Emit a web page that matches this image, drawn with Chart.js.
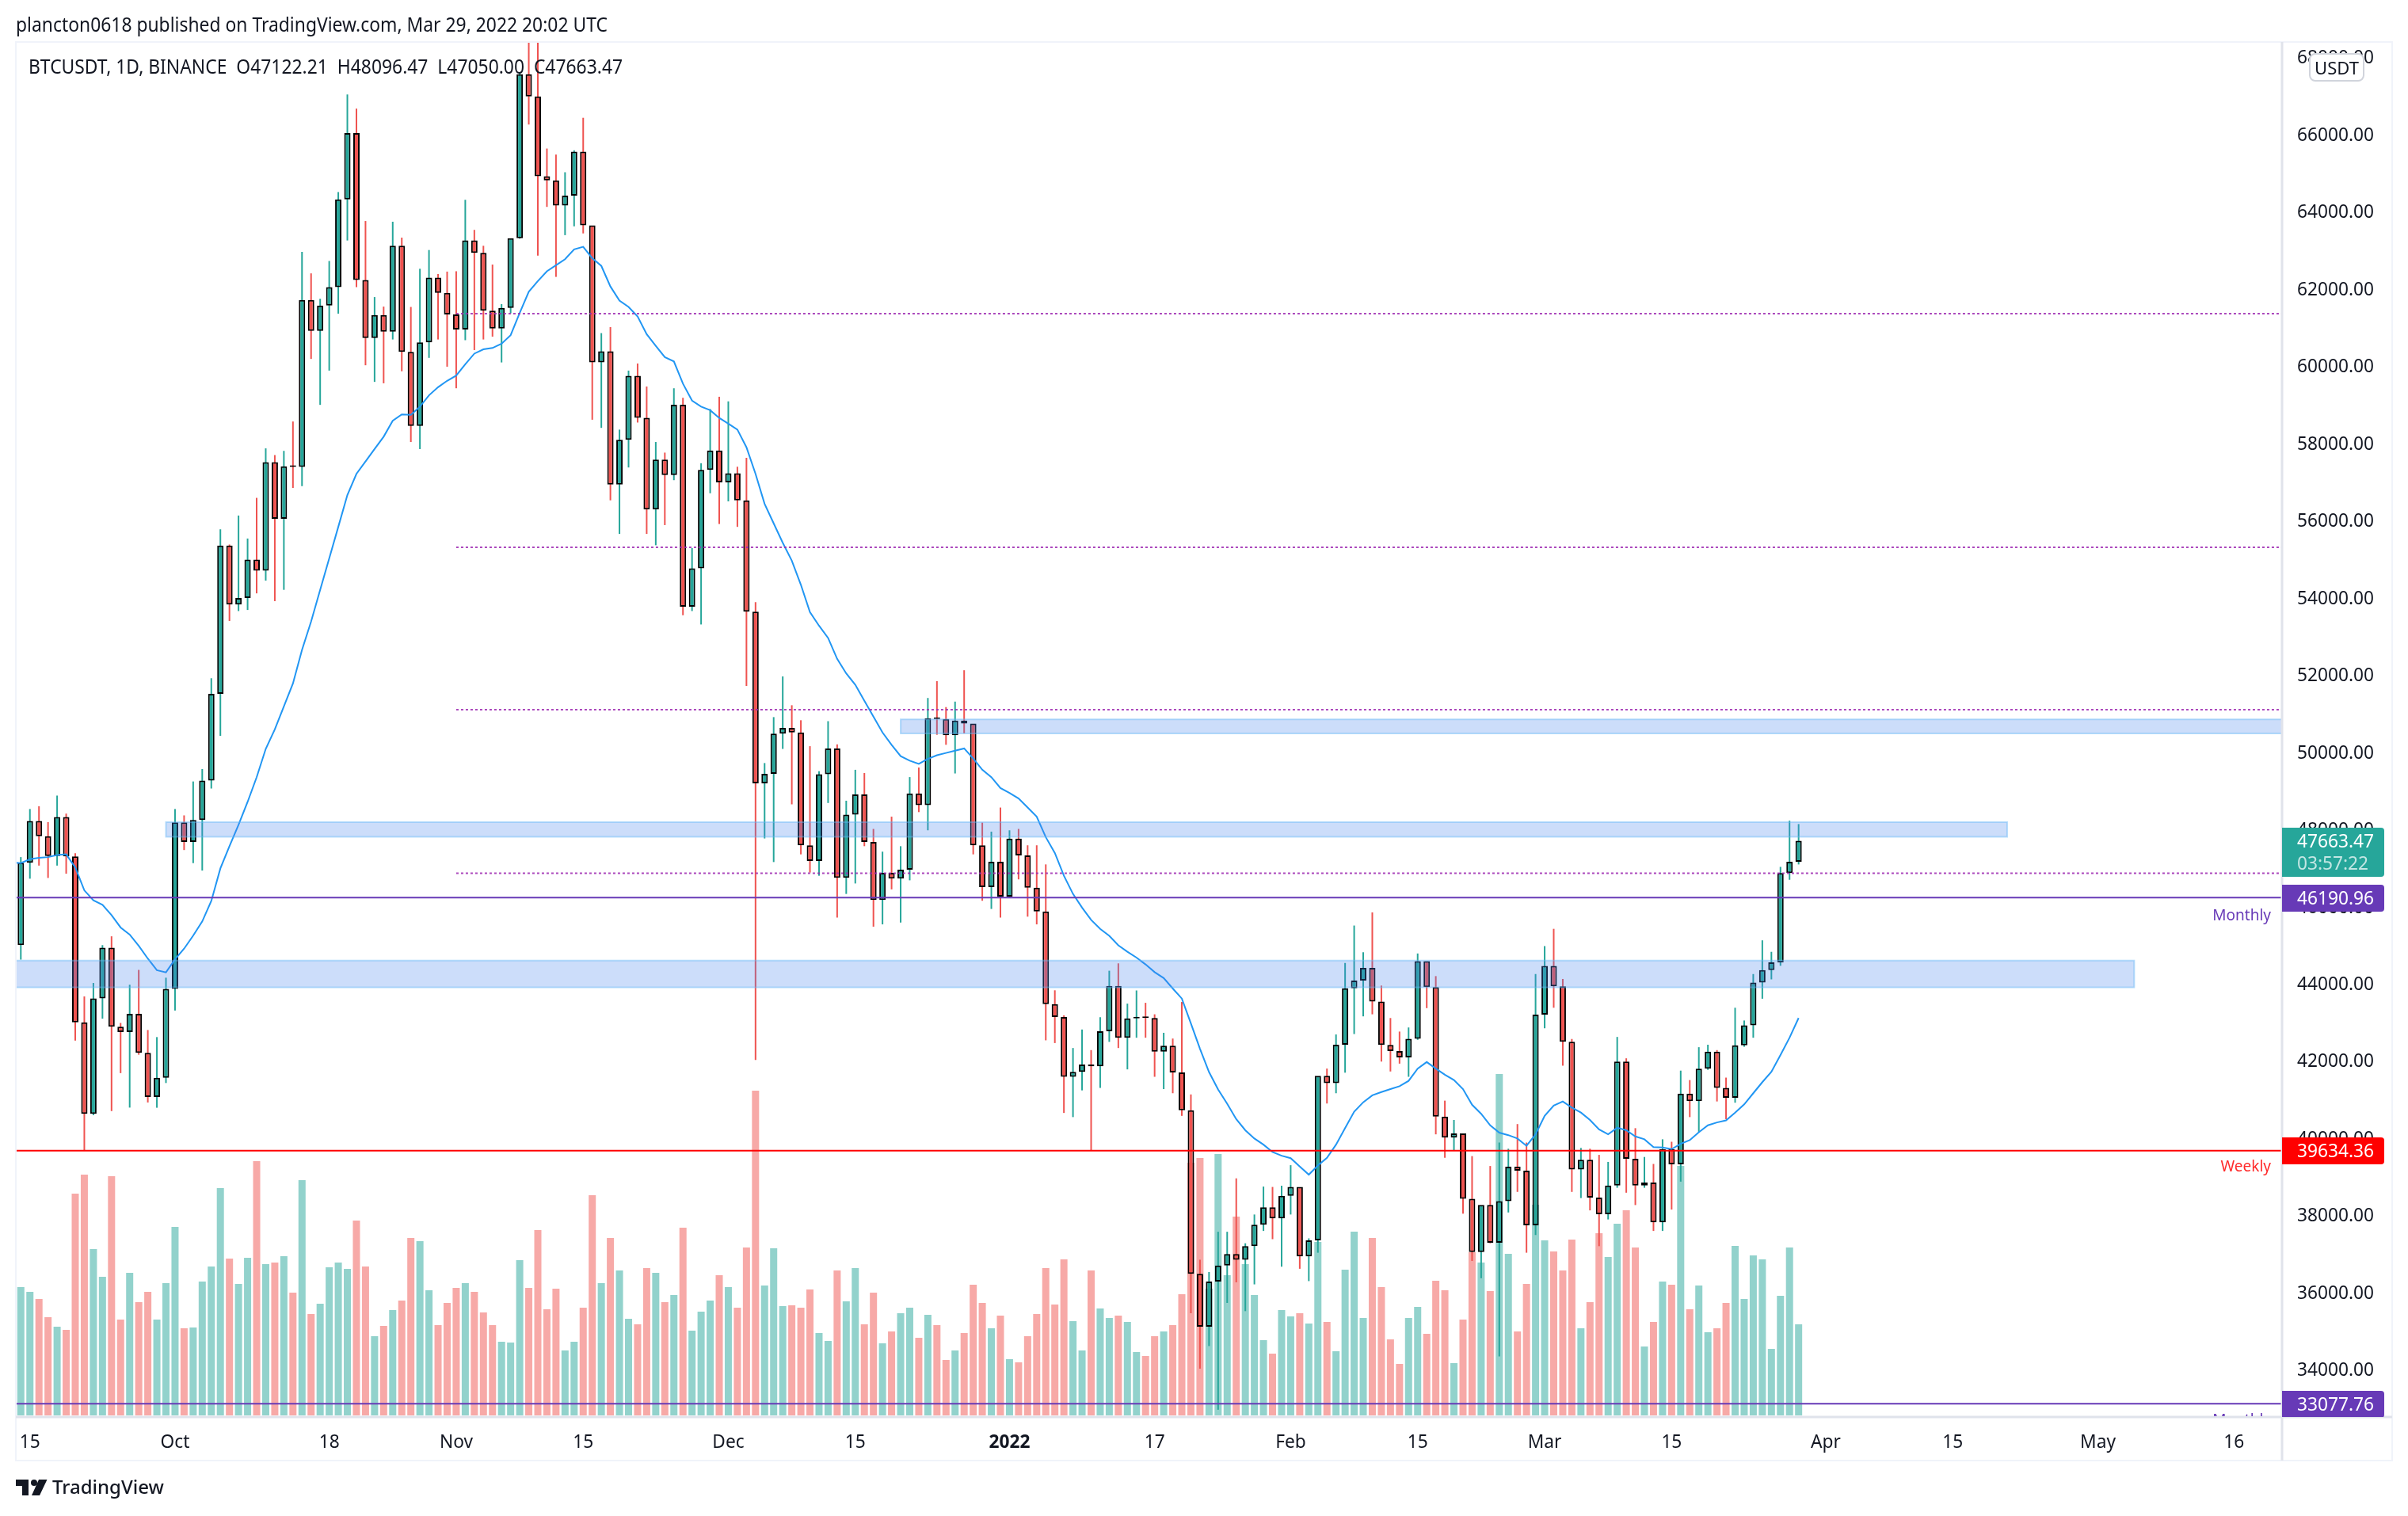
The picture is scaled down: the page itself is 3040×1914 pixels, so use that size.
<!DOCTYPE html>
<html>
<head>
<meta charset="utf-8">
<title>BTCUSDT 1D</title>
<script src="https://cdn.jsdelivr.net/npm/chart.js@4/dist/chart.umd.min.js"></script>
<style>
html,body{margin:0;padding:0;background:#fff;width:3040px;height:1914px;overflow:hidden;font-family:"Noto Sans",sans-serif;color:#131722}
#wrap{position:relative;width:3040px;height:1914px}
canvas{position:absolute;left:0;top:0}
.t{position:absolute;white-space:nowrap;line-height:1}
.tag{position:absolute;left:2881px;width:129px;color:#fff;font-size:22.7px;border-radius:0 4px 4px 0;box-sizing:border-box;padding-left:19px}
.tag div{position:absolute;left:19px;line-height:1;white-space:nowrap}
</style>
</head>
<body>
<div id="wrap">
<canvas id="c" width="3040" height="1914"></canvas>
<div class="t" style="left:20px;top:19px;font-size:24.6px;transform:scaleX(.93);transform-origin:0 0" id="pub">plancton0618 published on TradingView.com, Mar 29, 2022 20:02 UTC</div>
<div class="t" style="left:36px;top:72px;font-size:24.6px;white-space:pre;transform:scaleX(.93);transform-origin:0 0" id="ohlc">BTCUSDT, 1D, BINANCE  O47122.21  H48096.47  L47050.00  C47663.47</div>
<div class="t" style="left:2915px;top:67px;width:70px;height:36px;box-sizing:border-box;border:2px solid #d1d4dc;border-radius:8px;background:#fff;font-size:22px;line-height:32px;text-align:center">USDT</div>
<div class="tag" style="top:1045px;height:62px;background:#26a69a"><div style="top:6px">47663.47</div><div style="top:34px;color:rgba(255,255,255,.72)">03:57:22</div></div>
<div class="tag" style="top:1117px;height:34px;background:#673ab7"><div style="top:6px">46190.96</div></div>
<div class="tag" style="top:1436px;height:34px;background:#ff0000"><div style="top:6px">39634.36</div></div>
<div style="position:absolute;left:2881px;top:1756px;width:129px;height:33px;overflow:hidden"><div class="tag" style="left:0;top:0;height:34px;background:#673ab7"><div style="top:6px">33077.76</div></div></div>
<div class="t" style="right:173px;top:1146px;font-size:19px;color:#673ab7">Monthly</div>
<div class="t" style="right:173px;top:1463px;font-size:19px;color:#ff2a2a">Weekly</div>
<div style="position:absolute;left:2700px;top:1760px;width:181px;height:28px;overflow:hidden"><div class="t" style="right:14px;top:23px;font-size:19px;color:#673ab7">Monthly</div></div>
<svg style="position:absolute;left:20px;top:1868px" width="40" height="20" viewBox="0 0 40 20"><path fill="#131722" d="M0 0H16V20H8V8H0Z"/><circle fill="#131722" cx="23" cy="4" r="4"/><path fill="#131722" d="M29 0H39.5L30 20H20Z"/></svg>
<div class="t" style="left:66px;top:1865px;font-size:24px;font-weight:500;color:#131722">TradingView</div>
</div>
<script>
const priceTicks=[34000,36000,38000,40000,42000,44000,46000,48000,50000,52000,54000,56000,58000,60000,62000,64000,66000,68000];
const dateTickDays=[2,18,35,49,63,79,93,110,126,141,155,169,183,200,214,230,245];
const dateTickLabels=["15","Oct","18","Nov","15","Dec","15","2022","17","Feb","15","Mar","15","Apr","15","May","16"];
const firstDate="2021-09-13";
const opens=[null,44960,47092,48176,47783,47267,48278,47260,42961,40587,43580,44895,42848,42705,43178,42171,41026,41524,
43824,48141,47634,48200,49224,51471,55315,53785,53951,54949,54659,57471,56005,57367,57347,61672,60875,61528,62009,64280,66001,62193,60688,61286,60852,63078,60328,58413,60575,62253,61859,
61299,60911,63219,62896,61395,60937,61470,63273,67525,66947,64882,64774,64122,64380,65519,63606,60058,60344,56891,58052,59707,58622,56247,57541,57138,58960,53727,54721,57274,57776,
56950,57184,56480,53601,49152,49396,50441,50588,50471,47545,47140,49389,50053,46702,48343,48864,47632,46131,46834,46681,46914,48889,48588,50838,50820,50399,50775,50701,47543,46464,47120,
46216,47722,47286,46446,45833,43431,43097,41546,41678,41864,41822,42729,43902,42560,43059,43084,43071,42201,42352,41660,40680,36445,35071,36244,36660,36958,36809,37160,37716,38166,37881,
38466,38694,36896,37311,41574,41382,42380,43839,44042,44372,43495,42373,42217,42053,42535,44544,43873,40515,39974,40079,38386,37008,38230,37250,38327,39219,39116,37700,
43160,44421,43892,42454,39148,39398,38420,37988,38730,41941,39422,38729,38807,37777,39671,39280,41114,40917,41757,42201,41262,41002,42364,42882,43991,44313,44511,46827,47122];
const closes=[null,47092,48176,47783,47267,48278,47260,42961,40587,43580,44895,42848,42705,43178,42171,41026,41524,43824,
48141,47634,48200,49224,51471,55315,53785,53951,54949,54659,57471,56005,57367,57347,61672,60875,61528,62009,64280,66001,62193,60688,61286,60852,63078,60328,58413,60575,62253,61859,61299,
60911,63219,62896,61395,60937,61470,63273,67525,66947,64882,64774,64122,64380,65519,63606,60058,60344,56891,58052,59707,58622,56247,57541,57138,58960,53727,54721,57274,57776,56950,
57184,56480,53601,49152,49396,50441,50588,50471,47545,47140,49389,50053,46702,48343,48864,47632,46131,46834,46681,46914,48889,48588,50838,50820,50399,50775,50701,47543,46464,47120,46216,
47722,47286,46446,45833,43431,43097,41546,41678,41864,41822,42729,43902,42560,43059,43084,43071,42201,42352,41660,40680,36445,35071,36244,36660,36958,36809,37160,37716,38166,37881,38466,
38694,36896,37311,41574,41382,42380,43839,44042,44372,43495,42373,42217,42053,42535,44544,43873,40515,39974,40079,38386,37008,38230,37250,38327,39219,39116,37700,43160,
44421,43892,42454,39148,39398,38420,37988,38730,41941,39422,38729,38807,37777,39671,39280,41114,40917,41757,42201,41262,41002,42364,42882,43991,44313,44511,46827,47122,47663];
const highs=[null,47240,48486,48559,48147,48834,48367,47340,43630,43979,44959,45188,42944,43933,44318,42760,42577,44116,
48486,48321,49200,49521,51875,55732,55338,56090,55494,56548,57830,57656,57765,58526,62923,62364,61705,62685,64471,66999,66633,63720,61750,61503,63702,63290,61494,62483,62969,62346,62410,
62419,64270,63491,63079,62593,61567,63262,67570,68789,68999,65598,65442,64984,65552,66395,63583,60816,60972,58316,59845,60029,59433,57995,57720,59387,59140,55247,57445,58847,59167,
59048,57354,57583,53844,49677,50867,51921,51175,50786,50114,49466,50762,50161,48701,49502,49419,47970,47381,48288,47523,49313,49561,51363,51799,51127,51269,52082,50680,48135,47900,48524,
47935,47970,47546,47546,47051,43789,43141,42294,42773,42240,43092,44296,44487,43444,43785,43465,43167,42688,42539,43486,41090,36809,36489,37533,37533,38917,37235,37980,38704,38694,38726,
39258,38673,37362,41548,41761,42645,44498,45467,44775,45808,43912,43071,42720,42826,44743,44530,44157,40930,40430,40079,39493,38193,39237,39844,39684,40323,39844,44210,
44935,45382,44083,42528,39705,39684,39525,39343,42581,42027,40217,39471,39290,39929,39865,41708,41463,42315,42379,42240,41527,43337,43007,44210,45084,44786,46987,48184,48096];
const lows=[null,44584,46681,47020,46700,47020,46810,42486,39630,40553,43054,40660,41643,40750,42120,40883,40746,41387,
43265,47423,47084,46891,49017,50382,53359,53615,53643,54073,54403,53872,54165,56804,56850,60147,58957,59845,61320,63216,62007,59983,59552,59516,60651,59827,57995,57812,60175,60651,59946,
59387,60633,60377,60651,60724,60056,61329,63262,66220,62822,64086,62273,63354,63583,63399,58572,58361,56484,55613,57335,58499,55613,55320,55842,57006,53506,53615,53267,56667,55870,
56456,55796,51673,41982,47723,47112,50043,48607,47311,46840,46757,48642,45673,46286,46557,47523,45438,45497,46404,45544,46639,48406,47935,50409,50150,49407,50444,47311,46109,45897,45673,
46203,46663,45697,45497,42493,42422,40611,40504,41196,39631,41260,42453,42293,41740,42560,42560,41548,41229,41122,40536,35424,33987,34572,32922,35690,36223,35477,36170,37554,37341,36628,
37980,36574,36255,36990,40856,41122,41655,42656,43114,43167,41942,41686,41889,41548,42507,43327,40057,39450,39631,38002,36777,36329,37235,34306,38033,38566,36990,37448,
42805,43337,41836,38566,38406,38087,37160,37852,38673,38545,38225,38673,37554,37554,38108,38832,40504,40110,41729,40909,40451,40877,42326,42560,43571,44072,44424,46653,47050];
const volumes=[236,162,156,147,124,112,108,280,304,210,175,302,121,180,143,156,121,167,
238,110,111,169,188,287,198,166,199,321,191,193,201,155,297,128,141,187,193,185,246,188,100,113,133,145,224,220,158,114,142,
161,167,156,130,114,93,92,196,161,234,134,160,82,93,136,278,167,224,183,122,115,186,180,143,152,237,107,131,145,177,
162,136,212,410,164,211,138,139,136,159,104,94,183,144,186,115,155,91,106,129,136,98,127,114,70,82,104,165,142,110,126,
71,67,100,128,186,140,197,119,82,183,135,123,126,118,80,75,100,106,114,153,319,325,160,330,177,251,191,152,95,78,133,
125,129,116,219,118,81,184,232,123,224,162,96,65,123,137,103,170,158,66,121,206,193,157,431,204,106,166,266,
221,207,183,222,110,143,230,200,242,259,212,87,118,169,165,315,134,164,105,110,142,214,147,202,197,84,151,212,115];
const sma=[47100,47084,47185,47222,47240,47295,47313,46974,46379,46122,46003,45738,45417,45234,44941,44611,44309,44254,
44593,44868,45206,45573,46104,46947,47524,48074,48669,49310,50043,50547,51142,51738,52608,53341,54165,54980,55797,56621,57170,57491,57812,58132,58545,58709,58700,58911,59204,59415,59580,
59717,60010,60285,60395,60431,60541,60761,61338,61888,62163,62419,62575,62731,62987,63051,62758,62557,62025,61659,61494,61246,60789,60487,60194,60083,59506,59067,58911,58819,58618,
58471,58316,57857,57170,56392,55888,55384,54921,54296,53589,53236,52918,52376,52000,51705,51292,50880,50468,50150,49855,49737,49655,49784,49879,49938,49996,50055,49796,49502,49313,49031,
48901,48760,48524,48288,47758,47346,46757,46286,45932,45614,45379,45202,44955,44789,44637,44460,44260,44107,43836,43576,42930,42275,41670,41220,40850,40451,40164,39950,39791,39599,39503,
39439,39226,39013,39248,39450,39791,40217,40643,40888,41069,41154,41229,41303,41442,41761,41931,41761,41601,41463,41229,40824,40590,40291,40100,40036,39950,39759,40057,
40536,40803,40909,40749,40621,40430,40185,40057,40227,40164,40004,39929,39727,39716,39674,39812,39908,40110,40291,40366,40419,40621,40834,41122,41409,41676,42112,42560,43071];
const priceLevels=[{y:46190.96,c:"#673ab7"},{y:39634.36,c:"#ff0000"},{y:33077.76,c:"#673ab7"}];
const dottedLevels=[61320,55268,51060,46820];
const dottedFrom=49;
const zones=[{from:17,to:220,top:48147,bottom:47766},{from:-5,to:234,top:44560,bottom:43865},{from:98,to:260,top:50809,bottom:50444}];

const xMin=0.45,xMax=250.3,yMin=32734,yMax=68359,volMin=-2,volMax=1734;
const UP="#26a69a",DN="#ef5350";
const idx=opens.map((_,i)=>i);
const isUp=i=>opens[i]!==null?closes[i]>=opens[i]:false;
const volColor=i=>isUp(i)?"rgba(38,166,154,.5)":"rgba(239,83,80,.5)";
const font={family:'"Noto Sans",sans-serif',size:22.7};

const labelNudge={id:"labelNudge",beforeDraw(ch){
  ch.scales.y.getLabelItems(ch.chartArea).forEach(it=>{if(!it.nudged){it.options.translation[1]+=3.5;it.nudged=true;}});
}};
const frame={id:"frame",afterDraw(ch){
  const c=ch.ctx,a=ch.chartArea;
  c.save();
  c.strokeStyle="#f0f3fa";c.lineWidth=2;
  c.strokeRect(20,53,3000,1791);
  c.strokeStyle="#e0e3eb";c.lineWidth=3;
  c.beginPath();c.moveTo(a.right,53);c.lineTo(a.right,1844);c.moveTo(20,a.bottom);c.lineTo(3020,a.bottom);c.stroke();
  c.restore();
}};
const zonePlugin={id:"zones",afterDatasetsDraw(ch){
  const c=ch.ctx,a=ch.chartArea,X=ch.scales.x,Y=ch.scales.y;
  c.save();c.beginPath();c.rect(a.left,a.top,a.width,a.height);c.clip();
  for(const z of zones){
    const x0=X.getPixelForValue(z.from),x1=X.getPixelForValue(z.to),y0=Y.getPixelForValue(z.top),y1=Y.getPixelForValue(z.bottom);
    c.fillStyle="rgba(72,133,237,.28)";c.fillRect(x0,y0,x1-x0,y1-y0);
    c.strokeStyle="rgba(100,181,246,.45)";c.lineWidth=2;c.strokeRect(x0,y0,x1-x0,y1-y0);
  }
  c.restore();
}};

const datasets=[
 {type:"bar",label:"Volume",yAxisID:"v",order:10,barThickness:9,grouped:false,inflateAmount:0,
  data:idx.map(i=>({x:i,y:volumes[i]})),backgroundColor:idx.map(volColor)},
 {type:"bar",label:"Wicks",yAxisID:"y",order:8,barThickness:2,grouped:false,inflateAmount:0,
  data:idx.filter(i=>opens[i]!==null).map(i=>({x:i,y:[lows[i],highs[i]]})),
  backgroundColor:idx.filter(i=>opens[i]!==null).map(i=>isUp(i)?UP:DN)},
 {type:"bar",label:"Bodies",yAxisID:"y",order:7,barThickness:8,grouped:false,inflateAmount:0,minBarLength:2,
  data:idx.filter(i=>opens[i]!==null).map(i=>({x:i,y:[Math.min(opens[i],closes[i]),Math.max(opens[i],closes[i])]})),
  backgroundColor:idx.filter(i=>opens[i]!==null).map(i=>isUp(i)?UP:DN),borderColor:"#000",borderWidth:2,borderSkipped:false},
 {type:"line",label:"MA",yAxisID:"y",order:5,data:idx.map(i=>({x:i,y:sma[i]})),borderColor:"#2196f3",borderWidth:2,pointRadius:0,tension:0,fill:false},
 ...dottedLevels.map(l=>({type:"line",label:"Level",yAxisID:"y",order:4,data:[{x:dottedFrom,y:l},{x:xMax+5,y:l}],borderColor:"rgba(156,39,176,.85)",borderWidth:2,borderDash:[3,3],pointRadius:0,fill:false})),
 ...priceLevels.map(l=>({type:"line",label:"Line",yAxisID:"y",order:3,data:[{x:xMin-5,y:l.y},{x:xMax+5,y:l.y}],borderColor:l.c,borderWidth:2,pointRadius:0,fill:false}))
];

new Chart(document.getElementById("c"),{
 type:"bar",
 data:{datasets},
 plugins:[labelNudge,zonePlugin,frame],
 options:{
  responsive:false,animation:false,devicePixelRatio:1,
  layout:{padding:{left:20,top:53,right:20,bottom:70}},
  plugins:{legend:{display:false},tooltip:{enabled:false}},
  scales:{
   x:{type:"linear",min:xMin,max:xMax,offset:false,grid:{display:false,offset:false},border:{display:false},
      afterBuildTicks(s){s.ticks=dateTickDays.map(v=>({value:v}));},
      afterFit(s){s.height=55;},
      ticks:{autoSkip:false,maxRotation:0,minRotation:0,padding:11,color:"#131722",
       font:(ctx)=>ctx.tick&&dateTickLabels[dateTickDays.indexOf(ctx.tick.value)]==="2022"?{...font,weight:"bold"}:font,
       callback:(v)=>dateTickLabels[dateTickDays.indexOf(v)]}},
   y:{type:"linear",position:"right",min:yMin,max:yMax,beginAtZero:false,grid:{display:false,drawTicks:false},border:{display:false},
      afterBuildTicks(s){s.ticks=priceTicks.map(v=>({value:v}));},
      afterFit(s){s.width=139;},
      ticks:{padding:19,color:"#131722",font,callback:(v)=>v.toFixed(2)}},
   v:{type:"linear",display:false,min:volMin,max:volMax,beginAtZero:false,grid:{display:false}}
  }
 }
});
</script>
</body>
</html>
